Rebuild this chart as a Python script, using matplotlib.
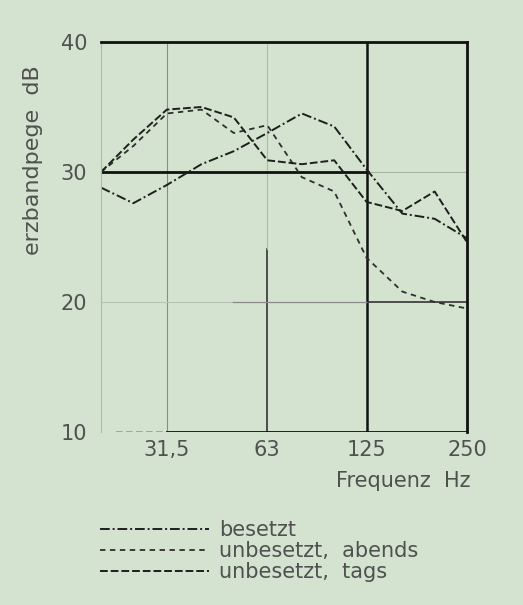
import matplotlib
matplotlib.use('Agg')
import matplotlib.pyplot as plt

# Terzmittenfrequenzen (Hz)
freq = [20, 25, 31.5, 40, 50, 63, 80, 100, 125, 160, 200, 250]

# Terzbandpegel in dB
besetzt = [28.8, 27.6, 29.0, 30.6, 31.6, 33.0, 34.5, 33.5, 30.2, 26.8, 26.4, 24.9]
unbesetzt_abends = [30.0, 32.0, 34.5, 34.8, 33.0, 33.6, 29.6, 28.5, 23.4, 20.8, 20.0, 19.5]
unbesetzt_tags = [30.0, 32.5, 34.8, 35.0, 34.2, 30.9, 30.6, 30.9, 27.7, 27.0, 28.5, 24.6]

xticks = [31.5, 63, 125, 250]
xticklabels = ['31,5', '63', '125', '250']
yticks = [10, 20, 30, 40]

bg = '#d3e3cf'
txt = '#505050'
fs = 15

fig = plt.figure(figsize=(5.23, 6.05), dpi=100, facecolor=bg)
ax = fig.add_axes([101/523, 1-432/605, 366/523, 390/605], facecolor=bg)

ax.set_xscale('log', base=2)
ax.set_xlim(20, 250)
ax.set_ylim(10, 40)

# Gitter / Rahmen
ax.axvline(31.5, color='#8a8a8a', lw=0.8)
ax.axvline(63, ymin=0, ymax=0.47, color='#333333', lw=1.2)
ax.axvline(63, ymin=0.47, ymax=1, color='#b0b8ad', lw=0.8)
ax.axvline(125, color='#111111', lw=1.8)
ax.axhline(30, xmin=0, xmax=0.73, color='#111111', lw=2.0)
ax.axhline(30, xmin=0.73, xmax=1, color='#a8b3a5', lw=0.8)
ax.axhline(20, xmin=0, xmax=0.36, color='#b8c2b5', lw=0.8)
ax.axhline(20, xmin=0.36, xmax=0.73, color='#8a8a8a', lw=0.9)
ax.axhline(20, xmin=0.73, xmax=1, color='#333333', lw=1.2)
ax.axhline(10, xmin=0.04, xmax=0.18, color='#999999', lw=1.2, ls=(0, (4, 2)))
ax.axhline(10, xmin=0.18, xmax=1, color='#111111', lw=2.0)

ax.spines['bottom'].set_visible(False)
ax.spines['left'].set_color('#b0b8ad')
ax.spines['left'].set_linewidth(0.8)
for s in ['top', 'right']:
    ax.spines[s].set_color('#111111')
    ax.spines[s].set_linewidth(2.0)

l1, = ax.plot(freq, besetzt, color='#1e1e1e', lw=1.4, ls=(0, (5, 1.5, 1, 1.5)))
l2, = ax.plot(freq, unbesetzt_abends, color='#2e2e2e', lw=1.3, ls=(0, (3, 2.5)))
l3, = ax.plot(freq, unbesetzt_tags, color='#1e1e1e', lw=1.4, ls=(0, (4, 1.5)))

ax.set_xticks(xticks)
ax.set_xticklabels(xticklabels)
ax.xaxis.set_minor_locator(matplotlib.ticker.NullLocator())
ax.set_yticks(yticks)
ax.set_yticklabels([str(v) for v in yticks])
ax.tick_params(axis='both', length=0, labelsize=fs, labelcolor=txt)
ax.tick_params(axis='x', pad=6)
ax.tick_params(axis='y', pad=10)

fig.text(470/523, 1-481/605, 'Frequenz  Hz', ha='right', va='center', fontsize=fs, color=txt)
fig.text(33/523, 1-160/605, 'erzbandpege  dB', rotation=90, ha='center', va='center', fontsize=16, color=txt)

fig.legend([l1, l2, l3], ['besetzt', 'unbesetzt,  abends', 'unbesetzt,  tags'],
           loc='upper left', bbox_to_anchor=(92/523, 1-512/605), frameon=False,
           fontsize=fs, labelcolor=txt, handlelength=5.2, handletextpad=0.5,
           labelspacing=0.05, borderaxespad=0)

fig.savefig('out.png', dpi=100, facecolor=bg)
